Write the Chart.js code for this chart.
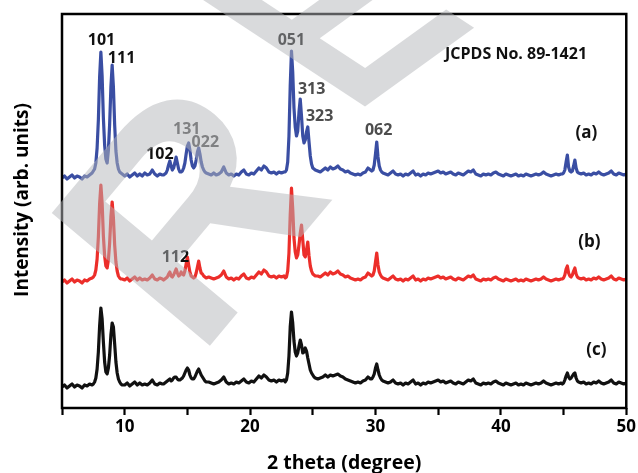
<!DOCTYPE html>
<html>
<head>
<meta charset="utf-8">
<script src="https://cdn.jsdelivr.net/npm/chart.js@4.4.1/dist/chart.umd.min.js"></script>
<style>
html,body{margin:0;padding:0;background:#fff;}
#wrap{width:638px;height:473px;position:relative;}
</style>
</head>
<body>
<div id="wrap"><canvas id="c" width="638" height="473"></canvas></div>
<script>
// 2 theta grid (degree)
const twoTheta = [
5.0,5.2,5.4,5.6,5.8,6.0,6.2,6.4,6.6,6.8,7.0,7.2,
7.4,7.5,7.6,7.7,7.8,7.9,8.0,8.1,8.2,8.3,8.4,8.5,8.6,8.7,8.8,8.9,9.0,9.1,9.2,9.3,9.4,9.5,9.6,9.7,9.8,
10.0,10.2,10.4,10.6,10.8,11.0,11.2,11.4,11.6,11.8,12.0,12.2,12.4,12.6,12.8,13.0,
13.1,13.2,13.3,13.4,13.5,13.6,13.7,13.8,13.9,14.0,14.1,14.2,14.3,14.4,14.5,14.6,14.7,14.8,14.9,15.0,15.1,15.2,15.3,15.4,15.5,15.6,15.7,15.8,15.9,16.0,16.1,16.2,16.3,16.4,16.5,
16.7,16.9,17.1,17.3,17.5,17.7,17.9,18.1,18.3,18.5,18.7,18.9,19.1,19.3,19.5,19.7,19.9,20.1,20.3,20.5,20.7,20.9,21.1,21.3,21.5,21.7,21.9,22.1,22.3,22.5,22.7,
22.8,22.9,23.0,23.1,23.2,23.3,23.4,23.5,23.6,23.7,23.8,23.9,24.0,24.1,24.2,24.3,24.4,24.5,24.6,24.7,24.8,24.9,25.0,25.1,25.2,
25.4,25.6,25.8,26.0,26.2,26.4,26.6,26.8,27.0,27.2,27.4,27.6,27.8,28.0,28.2,28.4,28.6,28.8,29.0,29.2,29.4,29.6,
29.7,29.8,29.9,30.0,30.1,30.2,30.3,30.4,30.5,30.6,
30.8,31.0,31.2,31.4,31.6,31.8,32.0,32.2,32.4,32.6,32.8,33.0,33.2,33.4,33.6,33.8,34.0,34.2,34.4,34.6,34.8,35.0,35.2,35.4,35.6,35.8,36.0,36.2,36.4,36.6,36.8,37.0,37.2,37.4,37.6,37.8,38.0,38.2,38.4,38.6,38.8,39.0,39.2,39.4,39.6,39.8,40.0,40.2,40.4,40.6,40.8,41.0,41.2,41.4,41.6,41.8,42.0,42.2,42.4,42.6,42.8,43.0,43.2,43.4,43.6,43.8,44.0,44.2,44.4,44.6,44.8,
44.9,45.0,45.1,45.2,45.3,45.4,45.5,45.6,45.7,45.8,45.9,46.0,46.1,46.2,
46.4,46.6,46.8,47.0,47.2,47.4,47.6,47.8,48.0,48.2,48.4,48.6,48.8,49.0,49.2,49.4,49.6,49.8,50.0
];

// pattern (a) - blue (stacked, arb. units)
const intensityA = [
230,232,229,231,233,230,232,231,229,232,231,233,
235,237,239,245,260,288,331,356,332,290,263,249,245,258,284,321,343,321,283,257,245,239,236,235,234,
232,234,231,233,235,232,234,232,235,233,234,238,234,232,234,233,
233,234,235,238,243,247,242,238,240,245,251,245,239,236,236,237,240,245,254,262,265,258,248,242,240,242,248,256,260,254,246,241,238,236,235,
234,233,235,233,234,236,241,235,233,234,232,234,233,236,238,234,233,235,234,237,240,238,242,240,236,235,236,234,236,235,236,
236,238,246,272,322,357,336,300,281,272,277,296,309,292,272,265,268,276,281,266,252,244,240,239,238,
237,236,238,240,238,241,239,240,242,239,238,236,237,235,234,233,234,233,235,236,240,238,
237,238,243,254,266,251,242,238,236,235,
234,233,235,237,234,233,234,232,234,233,235,237,233,234,232,234,233,235,234,235,236,237,235,236,234,235,236,234,233,235,234,233,235,237,236,238,234,233,232,234,233,234,233,235,236,234,233,232,234,233,232,233,234,232,233,232,234,233,232,233,234,233,234,236,234,233,232,233,234,233,234,
234,235,238,246,253,241,237,236,237,242,248,240,236,235,
234,235,233,234,233,235,234,236,234,233,234,235,237,234,233,235,234,233,234
];

// pattern (b) - red
const intensityB = [
126,128,125,127,129,126,128,127,125,128,127,129,
130,131,133,138,149,171,204,223,205,172,152,142,140,148,165,191,206,190,163,146,137,132,130,129,129,
128,130,127,129,131,128,130,128,129,128,130,133,129,128,130,129,
128,129,130,131,134,136,132,131,133,136,139,135,132,133,136,134,133,137,144,151,143,136,132,131,130,131,135,141,147,140,135,134,132,131,130,
131,130,129,130,131,133,137,131,129,130,128,130,129,132,134,130,129,131,130,133,136,134,138,136,132,131,132,130,132,131,132,
130,131,137,155,193,220,199,170,156,150,153,163,175,183,168,153,151,158,166,152,142,137,134,133,132,
132,131,133,135,133,136,134,135,137,134,133,131,132,130,129,128,129,128,130,131,135,133,
132,133,137,146,155,143,136,133,131,130,
129,128,130,132,129,128,129,127,129,128,130,132,128,129,127,129,128,130,129,130,131,132,130,131,129,130,131,129,128,130,129,128,130,132,131,133,129,128,127,129,128,129,128,130,131,129,128,127,129,128,127,128,129,127,128,127,129,128,127,128,129,128,129,131,129,128,127,128,129,128,129,
129,130,133,139,142,135,132,131,133,137,140,134,131,130,
129,130,128,129,128,130,129,131,129,128,129,130,132,129,128,130,129,128,129
];

// pattern (c) - black
const intensityC = [
21,23,20,22,24,21,23,22,20,23,22,24,
23,24,26,30,39,56,82,100,89,66,46,36,34,40,53,73,85,81,64,46,35,29,26,24,23,
23,25,22,24,26,23,25,23,24,23,25,28,24,23,25,24,
24,25,26,27,28,29,27,28,30,31,31,29,28,28,29,30,32,35,38,40,38,33,30,29,29,31,34,37,39,36,33,31,29,27,26,
26,25,24,25,26,28,31,26,24,25,24,26,25,27,29,26,25,27,26,29,32,30,33,31,28,27,28,26,28,27,28,
26,28,35,52,81,96,85,67,56,52,55,62,68,63,55,56,60,57,50,44,38,35,33,31,30,
29,30,31,33,31,33,32,33,34,32,31,29,28,27,26,25,26,25,27,28,31,29,
29,31,34,40,44,38,33,30,28,27,
26,25,26,28,25,24,25,23,25,24,26,28,24,25,23,25,24,26,25,26,27,28,26,27,25,26,27,25,24,26,25,24,26,28,27,29,25,24,23,25,24,25,24,26,27,25,24,23,25,24,23,24,25,23,24,23,25,24,23,24,25,24,25,27,25,24,23,24,25,24,25,
24,25,28,32,35,31,29,30,32,34,35,30,27,26,
25,26,24,25,24,26,25,27,25,24,25,26,28,25,24,26,25,24,25
];

// axis
const xTicksMajor = [10, 20, 30, 40, 50];
const xMin = 5, xMax = 50, yMin = 0, yMax = 394;

// peak annotations: label, 2theta, height (data units)
const peakLabels = ['101','111','102','131','022','051','313','323','062','112'];
const peakLabelX = [8.15, 9.75, 12.8, 14.95, 16.43, 23.29, 24.91, 25.55, 30.25, 14.04];
const peakLabelY = [368, 350, 254, 279, 266, 368, 319, 292, 278, 151];
const peakLabelDark = [true, true, true, false, false, true, false, false, false, true];

const sampleLabels = ['(a)','(b)','(c)'];
const sampleLabelX = [46.81, 47.05, 47.61];
const sampleLabelY = [275, 166, 58];

const refText = 'JCPDS No. 89-1421';
const refX = 41.21, refY = 354;

const FONT = '"Open Sans", "DejaVu Sans", sans-serif';

const pts = arr => twoTheta.map((t, i) => ({x: t, y: arr[i]}));

const annotPlugin = {
  id: 'annot',
  afterDatasetsDraw(chart) {
    const {ctx, chartArea: a, scales: {x, y}} = chart;
    ctx.save();
    // frame
    ctx.strokeStyle = '#000';
    ctx.lineWidth = 2.5;
    ctx.strokeRect(a.left, a.top, a.right - a.left, a.bottom - a.top);
    ctx.textAlign = 'center';
    ctx.textBaseline = 'middle';
    ctx.font = 'bold 16px ' + FONT;
    peakLabels.forEach((s, i) => {
      ctx.fillStyle = peakLabelDark[i] ? '#111' : '#4d4d4d';
      ctx.fillText(s, x.getPixelForValue(peakLabelX[i]), y.getPixelForValue(peakLabelY[i]));
    });
    ctx.fillStyle = '#111';
    ctx.font = 'bold 16px ' + FONT;
    ctx.fillText(refText, x.getPixelForValue(refX), y.getPixelForValue(refY));
    ctx.font = 'bold 17px ' + FONT;
    sampleLabels.forEach((s, i) => {
      ctx.fillText(s, x.getPixelForValue(sampleLabelX[i]), y.getPixelForValue(sampleLabelY[i]));
    });
    // y title
    ctx.save();
    ctx.translate(23, 200);
    ctx.rotate(-Math.PI / 2);
    ctx.font = 'bold 19px ' + FONT;
    ctx.fillStyle = '#000';
    ctx.fillText('Intensity (arb. units)', 0, 0);
    ctx.restore();
    ctx.restore();
  },
  afterDraw(chart) {
    // watermark overlay (two large letters)
    const ctx = chart.ctx;
    ctx.save();
    ctx.fillStyle = 'rgba(180,182,186,0.5)';
    ctx.textAlign = 'left';
    ctx.textBaseline = 'alphabetic';
    ctx.font = 'bold 300px "Liberation Sans", Arial, sans-serif';
    ctx.save();
    ctx.translate(197, 361);
    ctx.rotate(-50 * Math.PI / 180);
    ctx.fillText('R', 0, 0);
    ctx.restore();
    ctx.save();
    ctx.transform(0.648, -0.468, 0.835, 0.55, 352, 116);
    ctx.fillText('E', 0, 0);
    ctx.restore();
    ctx.restore();
  }
};

new Chart(document.getElementById('c'), {
  type: 'line',
  data: {
    datasets: [
      {label: '(a)', data: pts(intensityA), borderColor: '#3a4ea3', borderWidth: 3.2},
      {label: '(b)', data: pts(intensityB), borderColor: '#ec2e2a', borderWidth: 3.2},
      {label: '(c)', data: pts(intensityC), borderColor: '#111111', borderWidth: 3.2}
    ]
  },
  options: {
    responsive: false,
    animation: false,
    events: [],
    layout: {padding: {top: 14, right: 11, left: 0, bottom: 0}},
    elements: {point: {radius: 0}, line: {tension: 0, borderJoinStyle: 'round'}},
    plugins: {legend: {display: false}, tooltip: {enabled: false}},
    scales: {
      x: {
        type: 'linear', min: xMin, max: xMax,
        afterFit(s) { s.height = 65; },
        afterBuildTicks(s) { s.ticks = []; for (let v = xMin; v <= xMax; v += 5) s.ticks.push({value: v}); },
        ticks: {
          color: '#000', padding: 2, maxRotation: 0, autoSkip: false,
          font: {family: FONT, size: 17, weight: 'bold'},
          callback: v => xTicksMajor.includes(v) ? String(v) : ''
        },
        grid: {display: true, drawOnChartArea: false, drawTicks: true, tickLength: 7, tickWidth: 2.2, tickColor: '#000', color: '#000'},
        border: {display: false},
        title: {display: true, text: '2 theta (degree)', color: '#000', font: {family: FONT, size: 19.5, weight: 'bold', lineHeight: 1}, padding: {top: 0, bottom: 0}}
      },
      y: {
        min: yMin, max: yMax,
        afterFit(s) { s.width = 62; },
        ticks: {display: false},
        grid: {display: false},
        border: {display: false}
      }
    }
  },
  plugins: [annotPlugin]
});
</script>
</body>
</html>
